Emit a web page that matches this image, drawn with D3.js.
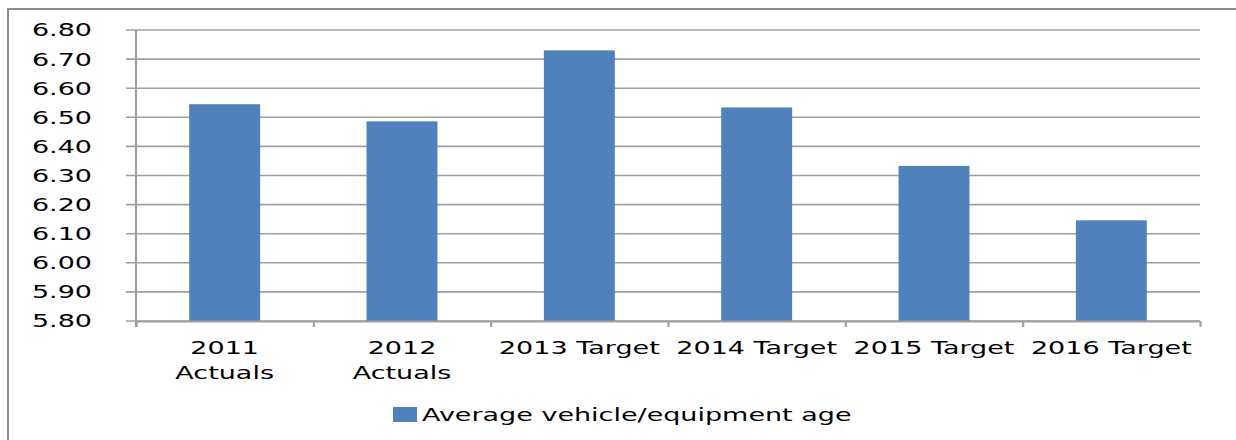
<!DOCTYPE html>
<html>
<head>
<meta charset="utf-8">
<script src="https://cdn.jsdelivr.net/npm/d3@7"></script>
<style>
  body { margin: 0; background: #fff; }
  text { font-family: "DejaVu Sans", sans-serif; fill: #000; }
</style>
</head>
<body>
<script>
const categories = ["2011\nActuals", "2012\nActuals", "2013 Target", "2014 Target", "2015 Target", "2016 Target"];
const values = [6.545, 6.486, 6.73, 6.534, 6.333, 6.146];
const yTicks = [5.8, 5.9, 6.0, 6.1, 6.2, 6.3, 6.4, 6.5, 6.6, 6.7, 6.8];
const seriesName = "Average vehicle/equipment age";

const w = 1236, h = 440;
const plotLeft = 136, plotRight = 1200, plotTop = 30, plotBottom = 321;
const SX = 1.5; // text in the picture is stretched sideways
const fontSize = 18;
const barColor = "#4f81bd";
const gridColor = "#a0a0a0";

const svg = d3.select("body").append("svg").attr("width", w).attr("height", h);

// * OUTER BORDER
svg.append("rect")
  .attr("x", 8).attr("y", 9)
  .attr("width", w + 20).attr("height", h + 20)
  .attr("fill", "none").attr("stroke", "#8c8c8c").attr("stroke-width", 2);

// * SCALES
const y = d3.scaleLinear().domain([5.8, 6.8]).range([plotBottom, plotTop]);
const x = d3.scaleBand().domain(categories).range([plotLeft, plotRight])
  .paddingInner(0.6).paddingOuter(0.3);
const edge = d3.scaleLinear().domain([0, categories.length]).range([plotLeft, plotRight]);

// * GRIDLINES + Y TICKS
svg.append("g").selectAll("line").data(yTicks).enter().append("line")
  .attr("x1", plotLeft - 10).attr("x2", plotRight)
  .attr("y1", d => y(d)).attr("y2", d => y(d))
  .attr("stroke", gridColor).attr("stroke-width", 1.6);

svg.append("g").selectAll("text").data(yTicks).enter().append("text")
  .attr("transform", d => `translate(92,${y(d)}) scale(${SX},1)`)
  .attr("dy", "0.36em")
  .attr("text-anchor", "end")
  .style("font-size", fontSize + "px")
  .text(d => d3.format(".2f")(d));

// * BARS
svg.append("g").selectAll("rect").data(values).enter().append("rect")
  .attr("x", (d, i) => x(categories[i]))
  .attr("width", x.bandwidth())
  .attr("y", d => y(d))
  .attr("height", d => y(5.8) - y(d))
  .attr("fill", barColor);

// * AXES
const yAxisG = svg.append("g").attr("transform", `translate(${plotLeft},0)`)
  .call(d3.axisLeft(y).tickValues([]).tickSizeOuter(0));
yAxisG.select(".domain").attr("stroke", gridColor).attr("stroke-width", 2.2)
  .attr("d", `M0,${plotTop}V${plotBottom + 6}`);

const xAxisG = svg.append("g").attr("transform", `translate(0,${plotBottom})`)
  .call(d3.axisBottom(edge).tickValues(d3.range(categories.length + 1))
    .tickSize(6).tickSizeOuter(0).tickFormat(""));
xAxisG.select(".domain").attr("stroke", gridColor).attr("stroke-width", 2.2);
xAxisG.selectAll(".tick line").attr("stroke", gridColor).attr("stroke-width", 2.2);

// * CATEGORY LABELS
const labels = svg.append("g").selectAll("text").data(categories).enter().append("text")
  .attr("transform", d => `translate(${x(d) + x.bandwidth() / 2},354) scale(${SX},1)`)
  .attr("text-anchor", "middle")
  .style("font-size", fontSize + "px");
labels.selectAll("tspan").data(d => d.split("\n")).enter().append("tspan")
  .attr("x", 0)
  .attr("dy", (d, i) => i === 0 ? 0 : 25)
  .text(d => d);

// * LEGEND
svg.append("rect")
  .attr("x", 393).attr("y", 407).attr("width", 24).attr("height", 15)
  .attr("fill", barColor);
svg.append("text")
  .attr("transform", `translate(422,421) scale(${SX},1)`)
  .style("font-size", fontSize + "px")
  .text(seriesName);
</script>
</body>
</html>
